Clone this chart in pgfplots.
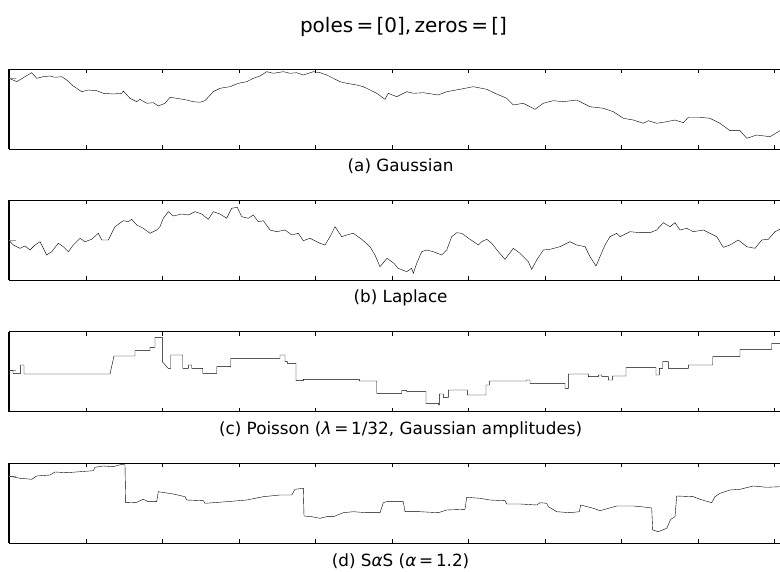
\documentclass[border=0pt]{standalone}
\usepackage{fontspec}
\setmainfont{DejaVu Sans}
\usepackage{pgfplots}
\pgfplotsset{compat=1.18}
\pgfplotsset{
  strip/.style={
    scale only axis, width=782.6pt, height=80pt,
    xmin=9.3, xmax=791.9, ymin=0, ymax=80,
    xtick={9.3,85.8,162.3,238.8,315.3,391.8,468.3,544.8,621.3,697.8,774.3},
    xticklabels={}, ytick=\empty,
    major tick length=4pt,
    tick style={black, line width=0.6pt},
    tick align=inside,
    xtick pos=both, ytick pos=left,
    separate axis lines,
    x axis line style={line width=0.8pt},
    y axis line style={line width=1.8pt},
    cycle list={{black, line width=1.2pt, no markers, line join=round}},
    xlabel style={at={(axis description cs:0.5,0)}, anchor=base, yshift=-23pt, font=\fontsize{16.8}{19}\selectfont},
    extra y tick style={major tick length=7pt, tick style={gray!80, line width=0.8pt}},
    extra y tick labels={},
    anchor=south west,
  }
}
\begin{document}
\begin{tikzpicture}
\path[use as bounding box] (0,0) rectangle (780pt,571pt);
\clip (0,0) rectangle (780pt,571pt);
\node[anchor=base, font=\fontsize{20}{24}\selectfont] at (403.5pt,538pt) {poles\,=\,[0],\,zeros\,=\,[]};

\begin{axis}[strip, at={(9.3pt,422pt)}, extra y ticks={70.7}, xlabel={(a) Gaussian}]
\addplot coordinates {(9.3,70.7)(16.7,67.3)(31.7,76.3)(36.7,70.7)(43.3,72.3)(50,73)(55,71.7)(61.7,72.3)(66.7,69)(73.3,63)(81.7,57.3)(88.3,59)(96.7,58.3)(103.3,55.7)(113.3,55)(121.7,55.7)(123.3,58)(130,50.7)(136.7,47.3)(140,49.7)(146.7,45.7)(153.3,46.3)(158.3,43)(165,45.7)(170,51.7)(176.7,50.7)(186.7,49)(193.3,47.3)(200,46.7)(205,48.3)(213.3,57.3)(220,60.7)(230,62.3)(238.3,65.7)(246.7,67.3)(253.3,70.7)(260,73)(266.7,77.3)(273.3,75.7)(283.3,77.3)(290,75.7)(296.7,76.3)(303.3,74)(313.3,77.3)(320,76.3)(326.7,74)(333.3,70.7)(340,67.3)(346.7,65.7)(356.7,64)(363.3,62.3)(370,59)(376.7,55.7)(385,49.7)(388.3,55.7)(396.7,52.3)(406.7,57.3)(413.3,55.7)(423.3,56.3)(438.3,54)(446.7,57.3)(460,59.7)(473.3,62.3)(486.7,59.7)(495,55.7)(506.7,50.7)(513.3,44)(523.3,45.7)(535,39.7)(543.3,45.7)(553.3,48.3)(563.3,47.3)(576.7,49)(590,42.3)(603.3,40.7)(613.3,37.3)(623.3,30.7)(633.3,29)(643.3,25.7)(648.3,28.3)(656.7,25.7)(666.7,27.3)(675,29)(683.3,26.3)(688.3,31.7)(700,31.7)(710,30.7)(720,25.7)(730,18.3)(740,18.3)(746.7,10.7)(756.7,14)(770,12.3)(780,18.3)(791,21)};
\end{axis}

\begin{axis}[strip, at={(9.3pt,291pt)}, extra y ticks={39.3}, xlabel={(b) Laplace}]
\addplot coordinates {(9.3,39.3)(13.3,35)(20,31.7)(25,34)(30,30)(35,35)(40,38.3)(46.7,25)(51.7,28.3)(58.3,36.7)(63.3,33.3)(68.3,28.3)(73.3,35)(80,41.7)(85,38.3)(91.7,40.7)(98.3,46.7)(101.7,40)(108.3,40)(115,53.3)(123.3,59.3)(128.3,58.3)(131.7,60.7)(136.7,55)(143.3,51.7)(150,46.7)(156.7,50)(160,53.3)(163.3,61.7)(168.3,68.3)(173.3,64)(181.7,66)(188.3,65)(195,68.3)(201.7,66)(208.3,60.7)(213.3,68.3)(220,66)(226.7,61.7)(231.7,71.7)(237.3,72.7)(241.7,63.3)(248.3,61.7)(253.3,65)(258.3,58.3)(263.3,59.3)(270,50)(276.7,48.3)(285,50)(291.7,45)(298.3,46.7)(303.3,39.3)(310,41.7)(320,36.7)(325,35)(330,43.3)(335,53.3)(341.7,43.3)(346.7,45)(353.3,46.7)(361.7,40.7)(370,33.3)(375,25)(380,13.3)(387,21.7)(394,16.7)(398,11.7)(406.7,8.3)(411.7,11.7)(413.3,6.7)(416.7,16.7)(421.7,28.3)(426.7,30)(433.3,28.3)(441.7,25)(446.7,30)(451.7,43.3)(456.7,47.3)(461.7,46.7)(470,40.7)(478.3,35)(481.7,38.3)(486.7,40.7)(491.7,36.7)(498.3,28.3)(505,20.7)(513.3,31.7)(520,26.7)(528.3,18.3)(531.7,10.7)(536.7,20)(543.3,30)(550,30.7)(560,33.3)(570,38.3)(576.7,35)(585,33.3)(590,23.3)(596,14)(600,23.3)(605,35)(610,43.3)(616.7,46.7)(620,43.3)(630,48.3)(640,47.3)(650,47.3)(656.7,50)(663.3,57.3)(670,53.3)(675,57.3)(680,50)(686.7,51.7)(693.3,48.3)(703.3,50)(710,46.7)(716.7,43.3)(723.3,32.7)(730,35)(738.3,40)(746.7,33.3)(755,31.7)(761.7,40)(768.3,40.7)(775,48.3)(780,50.7)(791,52)};
\end{axis}

\begin{axis}[strip, at={(9.3pt,159.3pt)}, extra y ticks={41}, xlabel={(c) Poisson (\textit{λ}\,=\,1/32, Gaussian amplitudes)}]
\addplot coordinates {(9.3,41)(13,41)(13,38.3)(20.7,38.3)(20.7,46.7)(24,46.7)(24,37.7)(110,37.7)(114,55.7)(135,55.7)(135,61)(150,61)(150,64.3)(155,64.3)(155,74.3)(162.3,74.3)(162.3,50)(166.7,45)(168.3,43.3)(170.7,43.3)(170.7,56.7)(182.7,56.7)(182.7,43.3)(188.3,43.3)(188.3,46.7)(191.7,46.7)(191.7,43.3)(202.7,43.3)(202.7,38.3)(216.7,38.3)(216.7,45)(230.7,45)(230.7,53.3)(280,53.3)(280,56.7)(285,56.7)(285,50)(287.3,50)(287.3,48.3)(296,48.3)(296,31)(303.3,31)(303.3,32.3)(359.3,32.3)(359.3,30.7)(376.7,30.7)(376.7,18.3)(401.7,18.3)(401.7,21)(406.7,21)(406.7,20)(426,20)(426,8.3)(438.3,8.3)(438.3,6.7)(439.3,6.7)(439.3,17.7)(443.3,17.7)(443.3,14.3)(448.3,14.3)(448.3,21.7)(467.3,21.7)(467.3,16.7)(486,16.7)(486,26.7)(489.3,26.7)(489.3,30.7)(526.7,30.7)(526.7,31.7)(530,31.7)(530,28.3)(565,28.3)(565,23.3)(568.3,23.3)(568.3,37.7)(588.3,37.7)(588.3,35)(598.3,35)(598.3,36.7)(601.7,36.7)(601.7,35)(608.3,35)(608.3,31.7)(612.3,31.7)(612.3,35.7)(626,35.7)(626,44)(656,44)(656,36.7)(659.3,36.7)(659.3,43.3)(662.7,43.3)(662.7,50)(668.3,50)(668.3,43.3)(688.3,43.3)(688.3,46.7)(712.7,46.7)(712.7,55)(740,55)(740,62.3)(771.7,62.3)(771.7,68.3)(791,68.3)};
\end{axis}

\begin{axis}[strip, at={(9.3pt,28pt)}, extra y ticks={67}, xlabel={(d) S\textit{α}S (\textit{α}\,=\,1.2)}]
\addplot coordinates {(9.3,67)(20,64.7)(31.7,63.7)(36.7,67)(50,68)(55,71)(66.7,70.3)(80,71.3)(93.3,72.3)(95,75.7)(103.3,77)(113.3,76.3)(121.7,78.7)(125,78)(125.7,40.3)(136.7,40.7)(143.3,43.7)(148.3,41.3)(156.7,41.3)(158.3,51.3)(173.3,49)(185,46.3)(186.7,43)(203.3,42.3)(205,39.7)(226.7,41.3)(246.7,43)(263.3,46.3)(280,48)(291.7,48)(295,53.7)(303.3,54.7)(304,27)(311.7,26.3)(320,24.7)(326.7,26.3)(333.3,26.3)(343.3,30.3)(353.3,31.3)(366.7,30.3)(380,30.3)(383.3,40.3)(386.7,41.3)(403.3,41.3)(405,31.3)(420,31.3)(438.3,30.3)(446.7,33)(465,33.7)(466.7,45.7)(480,44.7)(490,43)(505,42.3)(506.7,39)(520,39)(536.7,38)(540,40.3)(546.7,39.7)(548.3,36.3)(556.7,31.3)(570,30.3)(579.3,31.3)(580.7,38)(593.3,34.7)(600,32.3)(616.7,37)(633.3,37)(646.7,35.7)(651.7,35)(652.7,13)(658.3,11.3)(666.7,14.7)(670.7,23.7)(675,26.3)(676.7,47)(693.3,46.3)(700,43.7)(711.7,40.3)(715,46.3)(720,49.7)(730,53)(740,53.7)(753.3,57)(766.7,55.7)(780,56.3)(791,57)};
\end{axis}
\end{tikzpicture}
\end{document}
